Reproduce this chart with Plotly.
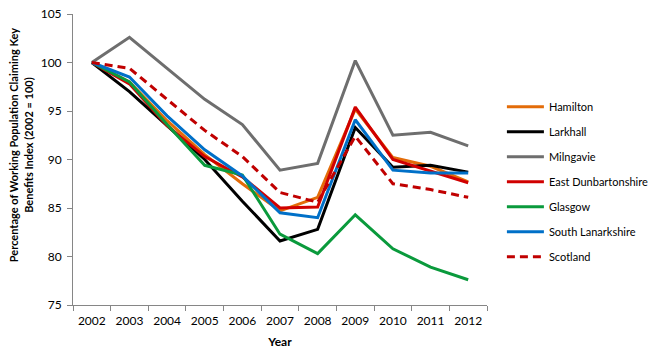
import plotly.graph_objects as go

years = ["2002", "2003", "2004", "2005", "2006", "2007", "2008", "2009", "2010", "2011", "2012"]
hamilton = [100, 98.0, 94.0, 90.5, 87.5, 84.7, 86.1, 95.2, 90.2, 89.3, 87.7]
larkhall = [100, 97.0, 93.5, 90.0, 85.7, 81.6, 82.8, 93.3, 89.2, 89.4, 88.7]
milngavie = [100, 102.6, 99.4, 96.2, 93.6, 88.9, 89.6, 100.2, 92.5, 92.8, 91.4]
east_dunb = [100, 97.8, 93.5, 90.3, 88.2, 85.0, 85.1, 95.4, 90.0, 88.8, 87.6]
glasgow = [100, 98.0, 93.6, 89.4, 88.4, 82.3, 80.3, 84.3, 80.8, 78.9, 77.6]
south_lan = [100, 98.5, 94.5, 91.0, 88.3, 84.5, 84.0, 94.1, 88.9, 88.6, 88.6]
scotland = [100, 99.4, 96.2, 93.0, 90.3, 86.6, 85.6, 92.4, 87.5, 86.9, 86.1]

series = [
    ("Hamilton", hamilton, "#E36C09", "solid"),
    ("Larkhall", larkhall, "#000000", "solid"),
    ("Milngavie", milngavie, "#6E6E6E", "solid"),
    ("East Dunbartonshire", east_dunb, "#D00000", "solid"),
    ("Glasgow", glasgow, "#0A9A3C", "solid"),
    ("South Lanarkshire", south_lan, "#0070C8", "solid"),
    ("Scotland", scotland, "#C00000", "8px,5px"),
]

fig = go.Figure()
for i, (name, vals, color, dash) in enumerate(series):
    fig.add_trace(go.Scatter(
        x=years, y=vals, name=name, mode="lines",
        line=dict(color=color, width=3, dash=dash),
        legendgroup=f"g{i}",
    ))

font_family = "Lato, 'Open Sans', sans-serif"
fig.update_layout(
    width=668, height=354,
    margin=dict(l=73, r=181, t=14, b=49, autoexpand=False),
    paper_bgcolor="white", plot_bgcolor="white",
    font=dict(family=font_family, size=12, color="#000000"),
    showlegend=True,
    legend=dict(
        x=1.036, xanchor="left", y=0.731, yanchor="top",
        font=dict(size=11, family=font_family, color="#000"),
        tracegroupgap=6, itemwidth=37,
        bgcolor="rgba(0,0,0,0)",
    ),
    xaxis=dict(
        type="category", range=[-0.5, 10.5],
        showline=True, linecolor="#868686", linewidth=1,
        ticks="outside", tickson="boundaries", ticklen=5, tickcolor="#868686",
        showgrid=False, zeroline=False,
        tickfont=dict(size=12), ticklabelstandoff=5,
        title=dict(text="<b>Year</b>", font=dict(size=12), standoff=10),
    ),
    yaxis=dict(
        range=[75, 105], tickvals=[75, 80, 85, 90, 95, 100, 105],
        showline=True, linecolor="#868686", linewidth=1,
        ticks="outside", ticklen=5, tickcolor="#868686",
        showgrid=False, zeroline=False,
        tickfont=dict(size=12), ticklabelstandoff=3,
    ),
    annotations=[dict(
        text="<b>Percentage of Working Population Claiming Key<br>Benefits Index (2002 = 100)</b>",
        xref="paper", yref="paper", x=-0.125, y=0.55,
        xanchor="center", yanchor="middle", textangle=-90, showarrow=False,
        font=dict(size=11, family=font_family),
    )],
)

fig.write_html("out.html")
